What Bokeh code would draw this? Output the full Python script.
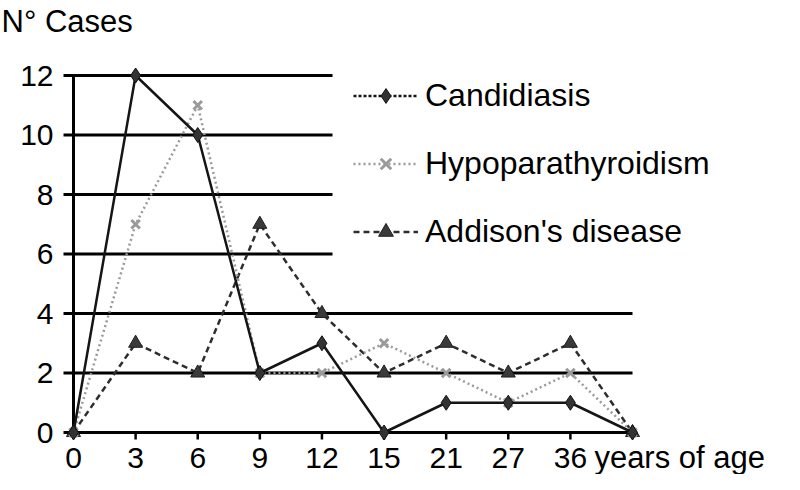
from bokeh.plotting import figure
from bokeh.models import ColumnDataSource, Range1d, Legend, LegendItem
from bokeh.core.properties import value
from bokeh.embed import file_html
from bokeh.resources import INLINE

# ---- data ----
age_labels = ["0", "3", "6", "9", "12", "15", "21", "27", "36", ""]
candidiasis = [0, 12, 10, 2, 3, 0, 1, 1, 1, 0]
hypopara = [0, 7, 11, 2, 2, 3, 2, 1, 2, 0]
addison = [0, 3, 2, 7, 4, 2, 3, 2, 3, 0]
y_ticks = [0, 2, 4, 6, 8, 10, 12]
series_names = ["Candidiasis", "Hypoparathyroidism", "Addison's disease"]
y_title = "N° Cases"
x_title = "years of age"

xs = list(range(len(age_labels)))
n_last = len(age_labels) - 1

# ---- layout (pixel targets inside the figure) ----
W, H = 784, 474
X0_PX, XN_PX = 73, 632      # screen x of first and last category
Y0_PX, YT_PX = 432, 75       # screen y of 0 and of 12
sx = (XN_PX - X0_PX) / n_last
sy = (Y0_PX - YT_PX) / y_ticks[-1]

FONT = value("Liberation Sans")

p = figure(width=W, height=H, output_backend="svg", toolbar_location=None,
           x_range=Range1d(-X0_PX / sx, n_last + (W - XN_PX) / sx),
           y_range=Range1d(-(H - Y0_PX) / sy, y_ticks[-1] + YT_PX / sy),
           min_border=0, min_border_left=0, min_border_right=0,
           min_border_top=0, min_border_bottom=0)
p.axis.visible = False
p.grid.visible = False
p.outline_line_color = None
p.background_fill_color = "white"
p.border_fill_color = "white"

# ---- grid lines (short ones stop before the legend) ----
short_end = (332 - X0_PX) / sx
tick_len = 10 / sx
g_x0, g_x1, g_y = [], [], []
for t in y_ticks:
    g_x0.append(-tick_len)
    g_x1.append(n_last if t <= 4 else short_end)
    g_y.append(t)
p.segment(x0=g_x0, x1=g_x1, y0=g_y, y1=g_y, line_color="black", line_width=3)
# y axis line
p.segment(x0=[0], x1=[0], y0=[0], y1=[y_ticks[-1]], line_color="black", line_width=3)
# x ticks
tx = xs[1:n_last]
p.segment(x0=tx, x1=tx, y0=[0] * len(tx), y1=[-7 / sy] * len(tx),
          line_color="black", line_width=2.5)

# ---- tick labels ----
p.text(x=[0] * len(y_ticks), y=y_ticks, text=[str(t) for t in y_ticks],
       x_offset=-20, text_align="right", text_baseline="middle",
       text_font=FONT, text_font_size="30px", text_color="black")
p.text(x=xs, y=[0] * len(xs), text=age_labels, y_offset=25,
       text_align="center", text_baseline="middle",
       text_font=FONT, text_font_size="30px", text_color="black")
p.text(x=[n_last - 1], y=[0], text=[x_title], x_offset=24, y_offset=25,
       text_align="left", text_baseline="middle",
       text_font=FONT, text_font_size="31px", text_color="black")
p.text(x=[-X0_PX / sx], y=[y_ticks[-1] + YT_PX / sy], text=[y_title],
       x_offset=1, y_offset=3, text_align="left", text_baseline="top",
       text_font=FONT, text_font_size="31px", text_color="black")

# ---- series ----
src = ColumnDataSource(dict(x=xs, c=candidiasis, h=hypopara, a=addison))

a_line = p.line("x", "a", source=src, line_color="#2e2e2e", line_width=2.5, line_dash="6 4")
a_pts = p.scatter("x", "a", source=src, marker="triangle", size=14,
                  fill_color="#3a3a3a", line_color="#1e1e1e", line_width=1)

h_line = p.line("x", "h", source=src, line_color="#9a9a9a", line_width=2.5, line_dash="2 3")
h_pts = p.scatter("x", "h", source=src, marker="x", size=12,
                  line_color="#9a9a9a", line_width=3)

c_line = p.line("x", "c", source=src, line_color="#151515", line_width=2.5)
c_pts = p.scatter("x", "c", source=src, marker="diamond", size=15,
                  fill_color="#333333", line_color="#111111", line_width=1)

# legend sample for Candidiasis is drawn dotted, as in the original
nan = float("nan")
leg_src = ColumnDataSource(dict(x=[nan], y=[nan]))
c_leg_line = p.line("x", "y", source=leg_src, line_color="#151515", line_width=2.5, line_dash="3 2")
c_leg_pts = p.scatter("x", "y", source=leg_src, marker="diamond", size=15,
                      fill_color="#333333", line_color="#111111", line_width=1)

legend = Legend(items=[
    LegendItem(label=series_names[0], renderers=[c_leg_line, c_leg_pts]),
    LegendItem(label=series_names[1], renderers=[h_line, h_pts]),
    LegendItem(label=series_names[2], renderers=[a_line, a_pts]),
], location=(353, 224))
legend.glyph_width = 65
legend.glyph_height = 37
legend.label_height = 37
legend.label_standoff = 7
legend.spacing = 31
legend.padding = 0
legend.margin = 0
legend.border_line_color = None
legend.background_fill_alpha = 0
legend.label_text_font = "Liberation Sans"
legend.label_text_font_size = "32px"
legend.label_text_color = "black"
legend.label_text_baseline = "middle"
p.add_layout(legend, "center")

open("out.html", "w").write(file_html(p, INLINE))
